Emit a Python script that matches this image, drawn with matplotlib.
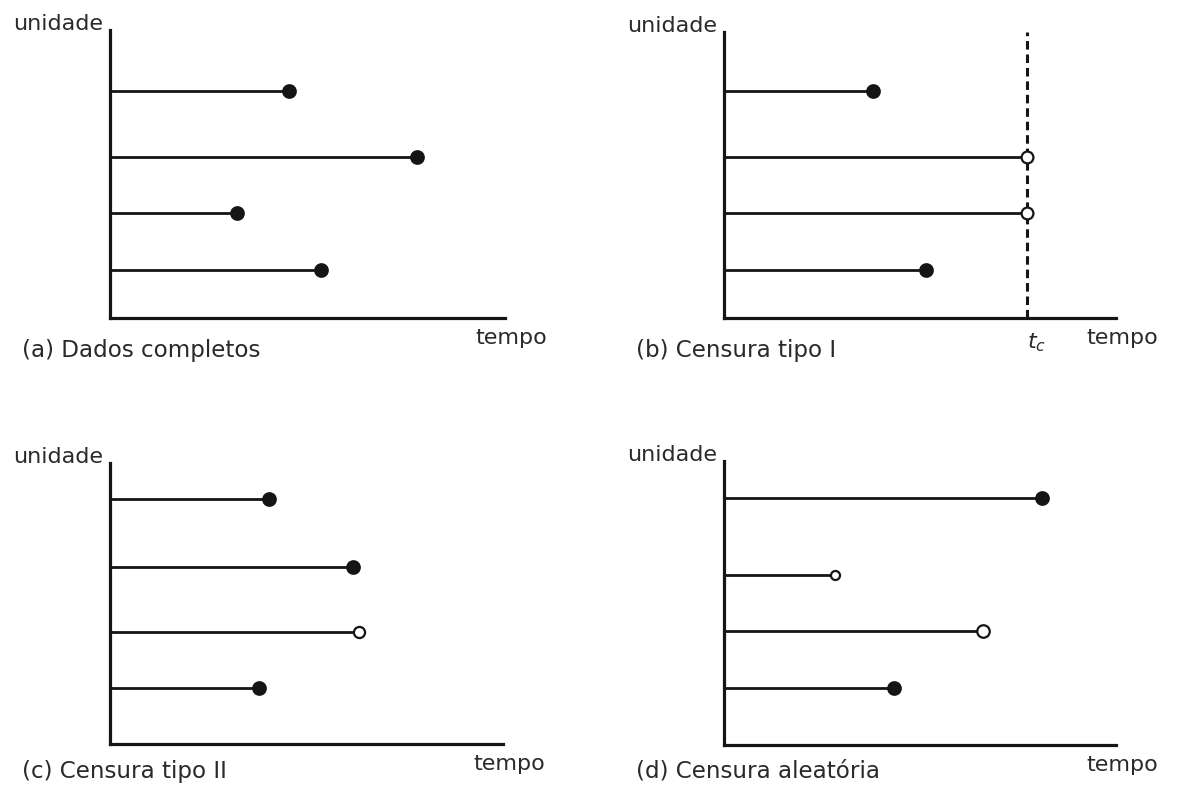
import matplotlib
matplotlib.use('Agg')
import matplotlib.pyplot as plt

W, H = 1181, 785
plt.rcParams['font.family'] = ['DejaVu Sans']
plt.rcParams['mathtext.fontset'] = 'dejavusans'

# ---------------- data ----------------
titles = ['(a) Dados completos', '(b) Censura tipo I',
          '(c) Censura tipo II', '(d) Censura aleatória']
y_label = 'unidade'
x_label = 'tempo'
tc_label = r'$t_c$'

rows_a = [4.73, 3.35, 2.19, 1.00]
times_a = [4.56, 7.80, 3.22, 5.37]
censored_a = [False, False, False, False]

rows_b = [4.73, 3.35, 2.19, 1.00]
times_b = [3.78, 7.70, 7.70, 5.13]
censored_b = [False, True, True, False]
tc_b = 7.70

rows_c = [5.10, 3.69, 2.33, 1.17]
times_c = [4.05, 6.18, 6.34, 3.79]
censored_c = [False, False, True, False]

rows_d = [5.15, 3.54, 2.38, 1.19]
times_d = [8.09, 2.82, 6.59, 4.33]
censored_d = [False, True, True, False]

# ---------------- layout / style ----------------
boxes = [(110, 30, 505, 318), (724, 32, 1116, 318),
         (110, 463, 503, 744), (724, 461, 1116, 745)]
caption_base = [357, 357, 778, 778]
msizes = [[9, 9, 9, 9], [9, 8.5, 8.5, 9], [9, 9, 8, 9], [9, 6.5, 9, 9]]
XS, YS = 39.3, 48.0
INK = '#151515'
TXT = '#2a2a2a'

fig = plt.figure(figsize=(W / 100, H / 100), dpi=100)
fig.patch.set_facecolor('white')


def fx(x):
    return x / W


def fy(y):
    return 1 - y / H


panels = [(rows_a, times_a, censored_a), (rows_b, times_b, censored_b),
          (rows_c, times_c, censored_c), (rows_d, times_d, censored_d)]

for i, ((rows, times, cens), box) in enumerate(zip(panels, boxes)):
    x0, y0, x1, y1 = box
    ax = fig.add_axes([fx(x0), fy(y1), (x1 - x0) / W, (y1 - y0) / H])
    ax.set_xlim(0, (x1 - x0) / XS)
    ax.set_ylim(0, (y1 - y0) / YS)
    for s in ['top', 'right']:
        ax.spines[s].set_visible(False)
    for s in ['left', 'bottom']:
        ax.spines[s].set_linewidth(2.3)
        ax.spines[s].set_color(INK)
    ax.set_xticks([])
    ax.set_yticks([])
    ax.patch.set_alpha(0)

    ax.hlines(rows, 0, times, color=INK, lw=2.0, zorder=2)
    for r, t, c, ms in zip(rows, times, cens, msizes[i]):
        ax.plot([t], [r], marker='o', ms=ms, mec=INK, mew=1.6,
                mfc='white' if c else INK, zorder=4, clip_on=False)

    if i == 1:
        ax.plot([tc_b, tc_b], [0, (y1 - y0) / YS], ls=(0, (2.8, 1.6)),
                color=INK, lw=2.2, zorder=3, clip_on=False)
        fig.text(fx(x0 + tc_b * XS), fy(y1 + 30), tc_label,
                 fontsize=16, color=TXT, ha='left', va='baseline')

    fig.text(fx(x0 - 7), fy(y0), y_label, fontsize=16, color=TXT,
             ha='right', va='baseline')
    fig.text(fx(x1 - 30), fy(y1 + 26), x_label, fontsize=16, color=TXT,
             ha='left', va='baseline')
    fig.text(fx(x0 - 88), fy(caption_base[i]), titles[i], fontsize=16.6,
             color=TXT, ha='left', va='baseline')

fig.savefig('out.png', dpi=100, facecolor='white')
